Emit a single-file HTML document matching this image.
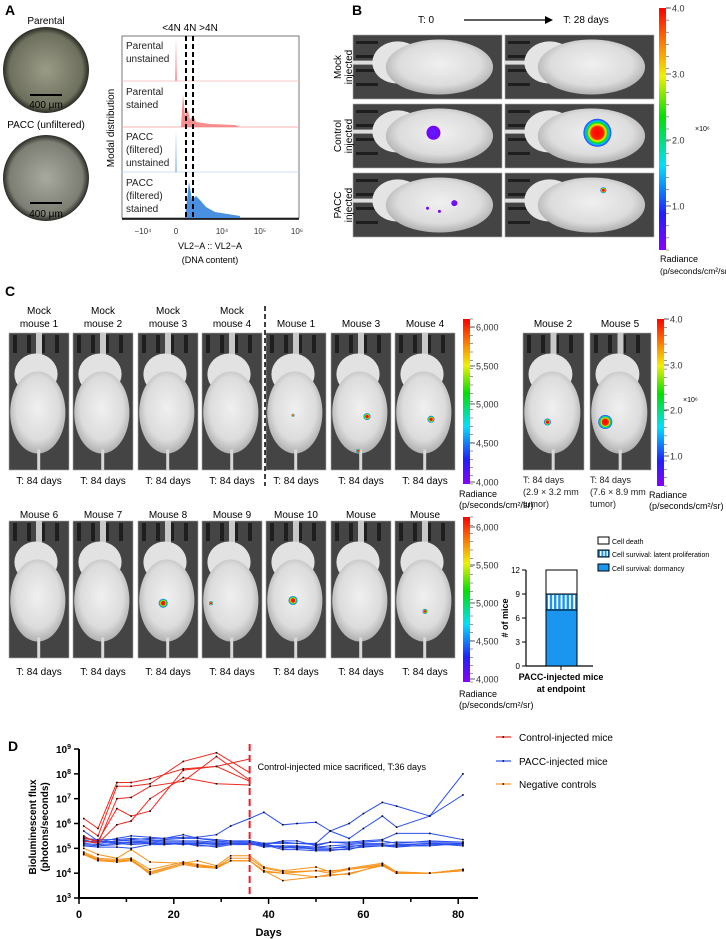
<!DOCTYPE html>
<html><head><meta charset="utf-8"><style>
html,body{margin:0;padding:0;background:#fff}
svg{display:block;font-family:"Liberation Sans",Arial,sans-serif}
</style></head><body>
<svg id="fig" width="726" height="939" viewBox="0 0 726 939" xmlns="http://www.w3.org/2000/svg">
<defs>
<linearGradient id="cbar" x1="0" y1="1" x2="0" y2="0">
<stop offset="0" stop-color="#8a00ff"/><stop offset="0.15" stop-color="#2020ff"/><stop offset="0.35" stop-color="#00e0ff"/><stop offset="0.55" stop-color="#00e000"/><stop offset="0.72" stop-color="#f0f000"/><stop offset="0.87" stop-color="#ff7000"/><stop offset="1" stop-color="#ff0000"/>
</linearGradient>
<radialGradient id="body" cx="0.5" cy="0.45" r="0.55"><stop offset="0" stop-color="#f0f0f0"/><stop offset="0.7" stop-color="#dcdcdc"/><stop offset="1" stop-color="#b0b0b0"/></radialGradient>
<radialGradient id="blob"><stop offset="0" stop-color="#ff0000"/><stop offset="0.45" stop-color="#ff2000"/><stop offset="0.6" stop-color="#f0f000"/><stop offset="0.72" stop-color="#00e000"/><stop offset="0.84" stop-color="#00c0ff"/><stop offset="1" stop-color="#3030ff"/></radialGradient>
<radialGradient id="blobP"><stop offset="0" stop-color="#5a20ff"/><stop offset="1" stop-color="#7a00ff"/></radialGradient>
<radialGradient id="dish1"><stop offset="0" stop-color="#9a9c88"/><stop offset="0.85" stop-color="#6e705e"/><stop offset="1" stop-color="#2a2a22"/></radialGradient>
<radialGradient id="dish2"><stop offset="0" stop-color="#a8aaa0"/><stop offset="0.85" stop-color="#7c7e74"/><stop offset="1" stop-color="#2a2a24"/></radialGradient>
</defs>

<!-- PANEL A -->
<text x="5" y="15" font-size="14" font-weight="bold">A</text>
<text x="46" y="24" font-size="10" text-anchor="middle">Parental</text>
<circle cx="46" cy="70" r="43" fill="url(#dish1)"/>
<line x1="30" y1="95" x2="62" y2="95" stroke="#000" stroke-width="2"/>
<text x="46" y="108" font-size="10" text-anchor="middle">400 μm</text>
<text x="46" y="128" font-size="10" text-anchor="middle">PACC (unfiltered)</text>
<circle cx="46" cy="178" r="43" fill="url(#dish2)"/>
<line x1="30" y1="203" x2="62" y2="203" stroke="#000" stroke-width="2"/>
<text x="46" y="217" font-size="10" text-anchor="middle">400 μm</text>

<g>
<text x="190" y="31" font-size="10" text-anchor="middle">&lt;4N 4N &gt;4N</text>
<rect x="122" y="36" width="177" height="182" fill="#fff" stroke="#555" stroke-width="0.8"/>
<line x1="122" y1="81" x2="299" y2="81" stroke="#f4c8c8"/>
<line x1="122" y1="127" x2="299" y2="127" stroke="#f4b0b0"/>
<line x1="122" y1="172" x2="299" y2="172" stroke="#cfe0f6"/>
<path d="M173 81 L175 81 L176 38 L177 81 L179 81Z" fill="#f7a0a0"/>
<path d="M178 127 L181 127 L183 94 L185 116 L188 110 L190 120 L193 115 L196 122 L210 124 L235 125 L240 127Z" fill="#f47a7a" opacity="0.85"/>
<path d="M173 172 L175 172 L176 129 L177 172 L179 172Z" fill="#a8c8f0"/>
<path d="M181 218 L185 218 L189 182 L192 200 L196 196 L200 200 L206 207 L215 212 L240 216 L240 218Z" fill="#4a90e0"/>
<line x1="186" y1="36" x2="186" y2="218" stroke="#000" stroke-width="2" stroke-dasharray="5,3"/>
<line x1="193" y1="36" x2="193" y2="218" stroke="#000" stroke-width="2" stroke-dasharray="5,3"/>
<g font-size="10" fill="#222">
<text x="126" y="49">Parental</text><text x="126" y="62">unstained</text>
<text x="126" y="95">Parental</text><text x="126" y="108">stained</text>
<text x="126" y="140">PACC</text><text x="126" y="153">(filtered)</text><text x="126" y="166">unstained</text>
<text x="126" y="186">PACC</text><text x="126" y="199">(filtered)</text><text x="126" y="212">stained</text>
</g>
<line x1="122" y1="219" x2="299" y2="219" stroke="#000" stroke-width="1.5"/>
<g font-size="8" fill="#333" text-anchor="middle">
<text x="143" y="234">−10⁴</text><text x="176" y="234">0</text><text x="222" y="234">10⁴</text><text x="260" y="234">10⁵</text><text x="297" y="234">10⁶</text>
</g>
<text x="210" y="249" font-size="9" text-anchor="middle">VL2−A :: VL2−A</text>
<text x="210" y="263" font-size="9" text-anchor="middle">(DNA content)</text>
<text transform="translate(114,128) rotate(-90)" font-size="10" text-anchor="middle">Modal distribution</text>
</g>

<!-- PANEL B -->
<text x="352" y="15" font-size="14" font-weight="bold">B</text>
<text x="426" y="23" font-size="10" text-anchor="middle">T: 0</text>
<line x1="464" y1="20" x2="545" y2="20" stroke="#000" stroke-width="1.2"/><path d="M545 16 L553 20 L545 24Z" fill="#000"/>
<text x="586" y="23" font-size="10" text-anchor="middle">T: 28 days</text>
<g id="bimgs"></g>
<g font-size="10" text-anchor="middle">
<text transform="translate(341,67) rotate(-90)">Mock</text><text transform="translate(352,67) rotate(-90)">injected</text>
<text transform="translate(341,136) rotate(-90)">Control</text><text transform="translate(352,136) rotate(-90)">injected</text>
<text transform="translate(341,205) rotate(-90)">PACC</text><text transform="translate(352,205) rotate(-90)">injected</text>
</g>
<g id="cbB"></g>
<text x="695" y="131" font-size="7">×10⁶</text>
<text x="660" y="262" font-size="9">Radiance</text>
<text x="660" y="274" font-size="8.5">(p/seconds/cm²/sr)</text>

<!-- PANEL C -->
<text x="5" y="296" font-size="14" font-weight="bold">C</text>
<g id="cimgs"></g>
<line x1="265" y1="306" x2="265" y2="486" stroke="#000" stroke-width="1.5" stroke-dasharray="5,3"/>
<g id="cbC1"></g><g id="cbC2"></g><g id="cbC3"></g>
<g font-size="9" fill="#222">
<text x="523" y="483">T: 84 days</text><text x="523" y="495">(2.9 × 3.2 mm</text><text x="523" y="507">tumor)</text>
<text x="590" y="483">T: 84 days</text><text x="590" y="495">(7.6 × 8.9 mm</text><text x="590" y="507">tumor)</text>
</g>
<text x="683" y="402" font-size="7">×10⁶</text>
<g font-size="9"><text x="459" y="497">Radiance</text><text x="459" y="508">(p/seconds/cm²/sr)</text>
<text x="649" y="498">Radiance</text><text x="649" y="509">(p/seconds/cm²/sr)</text>
<text x="459" y="697">Radiance</text><text x="459" y="708">(p/seconds/cm²/sr)</text></g>

<g id="barchart"></g>

<!-- PANEL D -->
<text x="8" y="751" font-size="14" font-weight="bold">D</text>
<g id="lineChart"></g>
</svg>

<script>
const NS='http://www.w3.org/2000/svg';
function el(tag,attrs,parent){const e=document.createElementNS(NS,tag);for(const k in attrs)e.setAttribute(k,attrs[k]);if(parent)parent.appendChild(e);return e;}
function txt(parent,x,y,s,size,anchor,extra){const t=el('text',{x:x,y:y,'font-size':size,'text-anchor':anchor||'start'},parent);if(extra)for(const k in extra)t.setAttribute(k,extra[k]);t.textContent=s;return t;}

// mouse photos
function mouseV(parent,x,y,w,h,blobs,name){
  const g=el('g',{},parent);
  
  
  el('rect',{x:x,y:y,width:w,height:h,fill:'#444',stroke:'#aaa','stroke-width':0.6},g);
  for(let i=0;i<4;i++)el('rect',{x:x+4+i*14,y:y+2,width:4,height:18,fill:'#1e1e1e'},g);
  el('rect',{x:x+w/2-3,y:y,width:6,height:24,fill:'#c8c8c8'},g);
  el('ellipse',{cx:x+w*0.45,cy:y+h*0.3,rx:w*0.36,ry:h*0.15,fill:'#e2e2e2'},g);
  el('ellipse',{cx:x+w*0.48,cy:y+h*0.58,rx:w*0.46,ry:h*0.3,fill:'url(#body)'},g);
  el('rect',{x:x+w*0.47,y:y+h*0.85,width:3,height:h*0.15,fill:'#d8d8d8'},g);
  blobs.forEach(b=>{el('circle',{cx:x+w*b[0],cy:y+h*b[1],r:b[2],fill:b[3]?'url(#blobP)':'url(#blob)'},g);});
}
function mouseH(parent,x,y,w,h,blobs,name){
  const g=el('g',{},parent);
  
  
  el('rect',{x:x,y:y,width:w,height:h,fill:'#444',stroke:'#aaa','stroke-width':0.6},g);
  for(let i=0;i<4;i++)el('rect',{x:x+3,y:y+6+i*14,width:22,height:3,fill:'#1e1e1e'},g);
  el('rect',{x:x,y:y+h*0.4,width:28,height:4,fill:'#ddd'},g);
  el('ellipse',{cx:x+w*0.3,cy:y+h*0.43,rx:w*0.17,ry:h*0.33,fill:'#e4e4e4'},g);
  el('ellipse',{cx:x+w*0.58,cy:y+h*0.5,rx:w*0.36,ry:h*0.43,fill:'url(#body)'},g);
  blobs.forEach(b=>{el('circle',{cx:x+w*b[0],cy:y+h*b[1],r:b[2],fill:b[3]?'url(#blobP)':'url(#blob)'},g);});
}
const bI=document.getElementById('bimgs');
mouseH(bI,353,35,149,64,[],'mock-t0-image');
mouseH(bI,505,35,149,64,[],'mock-t28-image');
mouseH(bI,353,104,149,64,[[0.54,0.45,7,1]],'control-t0-image');
mouseH(bI,505,104,149,64,[[0.62,0.45,14]],'control-t28-image');
mouseH(bI,353,173,149,64,[[0.68,0.47,3,1],[0.5,0.55,1.5,1],[0.58,0.6,1.5,1]],'pacc-t0-image');
mouseH(bI,505,173,149,64,[[0.66,0.27,3]],'pacc-t28-image');

const cI=document.getElementById('cimgs');
const colX=[9,73,138,202,266,331,395];
const topNames=[['Mock','mouse 1'],['Mock','mouse 2'],['Mock','mouse 3'],['Mock','mouse 4'],['','Mouse 1'],['','Mouse 3'],['','Mouse 4']];
const topBlobs=[[],[],[],[],[[0.45,0.6,1.5]],[[0.6,0.61,3.5],[0.45,0.86,2]],[[0.6,0.63,3.5]]];
colX.forEach((x,i)=>{
  if(topNames[i][0])txt(cI,x+30,314,topNames[i][0],10,'middle');
  txt(cI,x+30,327,topNames[i][1],10,'middle');
  mouseV(cI,x,333,60,137,topBlobs[i],'top-mouse-image-'+i);
  txt(cI,x+30,484,'T: 84 days',10,'middle');
});
txt(cI,553,327,'Mouse 2',10,'middle');
txt(cI,620,327,'Mouse 5',10,'middle');
mouseV(cI,523,333,61,137,[[0.4,0.65,3.5]],'mouse-2-image');
mouseV(cI,590,333,61,137,[[0.25,0.65,7]],'mouse-5-image');
const botNames=['Mouse 6','Mouse 7','Mouse 8','Mouse 9','Mouse 10','Mouse','Mouse'];
const botBlobs=[[],[],[[0.42,0.6,4.5]],[[0.15,0.6,2]],[[0.45,0.58,4.5]],[],[[0.5,0.66,2.5]]];
colX.forEach((x,i)=>{
  txt(cI,x+30,518,botNames[i],10,'middle');
  mouseV(cI,x,521,60,137,botBlobs[i],'bottom-mouse-image-'+i);
  txt(cI,x+30,675,'T: 84 days',10,'middle');
});

// colorbars
function cbar(id,x,y0,y1,ticks,nm){
  const g=document.getElementById(id);
  
  
  el('rect',{x:x,y:y0,width:7,height:y1-y0,fill:'url(#cbar)'},g);
  const n=20;for(let i=0;i<=n;i++){const yy=y0+(y1-y0)*i/n;el('line',{x1:x+7,x2:x+10,y1:yy,y2:yy,stroke:'#333','stroke-width':0.5},g);}
  ticks.forEach(t=>{el('line',{x1:x+7,x2:x+12,y1:t[1],y2:t[1],stroke:'#333','stroke-width':0.8},g);txt(g,x+13,t[1]+3.5,t[0],9,'start',{fill:'#333'});});
}
cbar('cbB',659,8,250,[['4.0',8],['3.0',74],['2.0',140],['1.0',206]],'colorbar-b');
cbar('cbC1',463,319,484,[['6,000',327],['5,500',366],['5,000',404],['4,500',443],['4,000',482]],'colorbar-c-top');
cbar('cbC2',657,319,486,[['4.0',319],['3.0',365],['2.0',410],['1.0',456]],'colorbar-c-right');
cbar('cbC3',463,517,682,[['6,000',527],['5,500',565],['5,000',603],['4,500',641],['4,000',679]],'colorbar-c-bottom');

// ---- stacked bar chart data ----
const barCategories=['Cell survival: dormancy','Cell survival: latent proliferation','Cell death'];
const barValues=[7,2,3];
const barTicks=[0,3,6,9,12];
(function(){
  const g=document.getElementById('barchart');
  const y=v=>666-v*(96/12);
  const ax=526;
  el('line',{x1:ax,x2:ax,y1:y(12),y2:666,stroke:'#000','stroke-width':1.2},g);
  el('line',{x1:ax,x2:593,y1:666,y2:666,stroke:'#000','stroke-width':1.2},g);
  barTicks.forEach(t=>{el('line',{x1:ax-4,x2:ax,y1:y(t),y2:y(t),stroke:'#000'},g);txt(g,ax-6,y(t)+3,String(t),8,'end');});
  el('line',{x1:561,x2:561,y1:666,y2:670,stroke:'#000'},g);
  let cum=0;
  barValues.forEach((v,i)=>{
    const r=el('rect',{x:546,y:y(cum+v),width:31,height:y(cum)-y(cum+v),fill:i===2?'#fff':'#1a96f0',stroke:'#000','stroke-width':1},g);
    
    
    if(i===1){for(let k=0;k<7;k++)el('rect',{x:548+k*4.2,y:y(cum+v)+1,width:1.8,height:y(cum)-y(cum+v)-2,fill:'#fff'},g);}
    cum+=v;
  });
  const ly=[571,557,544];
  barCategories.forEach((c,i)=>{
    const s=el('rect',{x:598,y:ly[i]-7,width:11,height:7,fill:i===2?'#fff':'#1a96f0',stroke:'#000'},g);
    
    
    if(i===1)for(let k=0;k<3;k++)el('rect',{x:600+k*3.3,y:ly[i]-6,width:1.4,height:5,fill:'#fff'},g);
    txt(g,612,ly[i],c,7,'start');
  });
  txt(g,0,0,'# of mice',9,'middle',{transform:'translate(508,618) rotate(-90)','font-weight':'bold'});
  txt(g,561,680,'PACC-injected mice',9,'middle',{'font-weight':'bold'});
  txt(g,561,692,'at endpoint',9,'middle',{'font-weight':'bold'});
})();

// ---- line chart data (log10 flux) ----
const controlDays=[1,4,8,11,15,22,29,36];
const control1=[6.2,5.8,7.65,7.65,7.8,8.2,8.3,8.6];
const control2=[5.9,5.5,7.5,7.5,7.6,8.5,8.85,8.05];
const control3=[5.5,5.2,7.0,7.05,7.5,7.7,8.7,7.75];
const control4=[5.4,5.3,6.6,6.3,6.5,8.15,8.3,7.7];
const control5=[5.3,5.2,5.95,6.1,7.0,7.85,7.6,7.55];
const paccDays=[1,4,8,11,15,18,22,25,29,32,36,39,43,46,50,53,57,60,64,67,74,81];
const pacc1=[5.3,5.2,5.3,5.35,5.4,5.4,5.45,5.45,5.55,5.9,6.2,6.45,5.95,6.0,6.05,5.7,6.0,6.4,6.85,6.7,6.3,8.0];
const pacc2=[5.7,5.3,5.2,5.25,5.3,5.35,5.4,5.4,5.35,5.3,5.3,5.2,5.2,5.2,5.2,5.7,5.4,5.8,6.3,5.85,6.3,7.15];
const pacc3=[5.45,5.25,5.4,5.5,5.45,5.4,5.55,5.4,5.3,5.25,5.3,5.2,5.25,5.2,5.15,5.25,5.25,5.3,5.35,5.6,5.6,5.35];
const pacc4=[5.4,5.35,5.35,5.4,5.35,5.3,5.3,5.3,5.25,5.25,5.25,5.15,5.3,5.3,5.1,5.25,5.2,5.25,5.3,5.2,5.3,5.25];
const pacc5=[5.35,5.2,5.3,5.3,5.3,5.25,5.25,5.25,5.2,5.2,5.2,5.1,5.1,5.1,5.05,5.1,5.15,5.2,5.2,5.25,5.25,5.25];
const pacc6=[5.25,5.3,5.25,5.2,5.25,5.2,5.2,5.2,5.2,5.2,5.15,5.15,5.05,5.0,5.0,5.0,5.05,5.15,5.15,5.1,5.2,5.2];
const pacc7=[5.2,5.15,5.2,5.15,5.2,5.2,5.15,5.2,5.15,5.2,5.2,5.2,5.0,5.05,4.95,4.95,4.95,5.1,5.1,5.05,5.15,5.15];
const pacc8=[5.1,5.05,5.05,5.0,5.15,5.15,5.2,5.15,5.05,5.15,5.15,5.15,4.95,4.95,4.9,4.9,5.0,5.05,5.1,5.1,5.1,5.2];
const pacc9=[5.15,5.1,5.15,5.25,5.2,5.15,5.2,5.1,5.1,5.2,5.2,5.05,5.1,5.05,5.05,5.0,5.1,5.1,5.1,5.15,5.2,5.1];
const negDays=[1,4,8,11,15,22,25,29,32,36,39,43,50,53,57,64,67,74,81];
const neg1=[5.0,4.75,4.6,4.95,4.45,4.4,4.5,4.3,4.7,4.7,4.25,4.1,4.25,4.05,4.2,4.4,4.05,4.0,4.15];
const neg2=[4.85,4.6,4.55,4.6,4.15,4.45,4.35,4.25,4.6,4.6,4.2,4.05,4.1,4.1,4.15,4.35,4.05,4.0,4.15];
const neg3=[4.8,4.55,4.5,4.55,4.05,4.4,4.3,4.2,4.5,4.5,4.1,3.7,3.85,3.9,4.0,4.3,4.0,4.0,4.1];
const neg4=[4.75,4.55,4.45,4.55,3.95,4.35,4.25,4.2,4.5,4.5,4.05,4.0,3.85,3.95,3.95,4.35,4.0,4.0,4.1];
const neg5=[4.75,4.5,4.45,4.5,4.0,4.4,4.3,4.25,4.5,4.5,4.1,4.0,4.1,4.0,4.15,4.3,4.0,4.0,4.15];
const xTicks=[0,20,40,60,80];
const yTicks=[3,4,5,6,7,8,9];
const sacrificeDay=36;
const legendLabels=['Control-injected mice','PACC-injected mice','Negative controls'];

(function(){
  const g=document.getElementById('lineChart');
  const X=d=>79+d*4.74;
  const Y=l=>898-(l-3)*24.83;
  el('line',{x1:79,x2:79,y1:Y(9),y2:899,stroke:'#000','stroke-width':2},g);
  el('line',{x1:78,x2:478,y1:898,y2:898,stroke:'#000','stroke-width':2},g);
  yTicks.forEach(t=>{
    el('line',{x1:74,x2:79,y1:Y(t),y2:Y(t),stroke:'#000','stroke-width':1.5},g);
    const tx=txt(g,71,Y(t)+4,'10',10,'end',{'font-weight':'bold'});
    const ts=el('tspan',{dy:'-4','font-size':'7'},tx);ts.textContent=String(t);
  });
  for(let d=0;d<=84;d+=10){el('line',{x1:X(d),x2:X(d),y1:898,y2:d%20===0?904:902,stroke:'#000','stroke-width':1.5},g);}
  xTicks.forEach(t=>txt(g,X(t),918,String(t),11,'middle',{'font-weight':'bold'}));
  txt(g,X(40),936,'Days',11,'middle',{'font-weight':'bold'});
  txt(g,0,0,'Bioluminescent flux',10,'middle',{transform:'translate(36,827) rotate(-90)','font-weight':'bold'});
  txt(g,0,0,'(photons/seconds)',10,'middle',{transform:'translate(48,827) rotate(-90)','font-weight':'bold'});
  function series(days,vals,color,name){
    const pts=days.map((d,i)=>X(d).toFixed(1)+','+Y(vals[i]).toFixed(1)).join(' ');
    const p=el('polyline',{points:pts,fill:'none',stroke:color,'stroke-width':1},g);
    
    
    days.forEach((d,i)=>el('rect',{x:X(d)-0.8,y:Y(vals[i])-0.8,width:1.6,height:1.6,fill:'#000'},g));
  }
  [neg1,neg2,neg3,neg4,neg5].forEach((s,i)=>series(negDays,s,'#f7941d','negative-control-line-'+(i+1)));
  [pacc1,pacc2,pacc3,pacc4,pacc5,pacc6,pacc7,pacc8,pacc9].forEach((s,i)=>series(paccDays,s,'#2a4ff0','pacc-line-'+(i+1)));
  [control1,control2,control3,control4,control5].forEach((s,i)=>series(controlDays,s,'#f0281e','control-line-'+(i+1)));
  const dl=el('line',{x1:X(sacrificeDay),x2:X(sacrificeDay),y1:744,y2:898,stroke:'#e8202a','stroke-width':2,'stroke-dasharray':'7,4'},g);
  
  
  txt(g,X(sacrificeDay)+8,770,'Control-injected mice sacrificed, T:36 days',9,'start');
  const lc=['#f0281e','#2a4ff0','#f7941d'];
  const ly=[737,761,784];
  legendLabels.forEach((l,i)=>{
    const ln=el('line',{x1:496,x2:511,y1:ly[i],y2:ly[i],stroke:lc[i],'stroke-width':1.2},g);
    
    
    el('rect',{x:502.5,y:ly[i]-0.8,width:1.6,height:1.6,fill:'#000'},g);
    txt(g,519,ly[i]+4,l,10,'start');
  });
})();
</script>
</body></html>
